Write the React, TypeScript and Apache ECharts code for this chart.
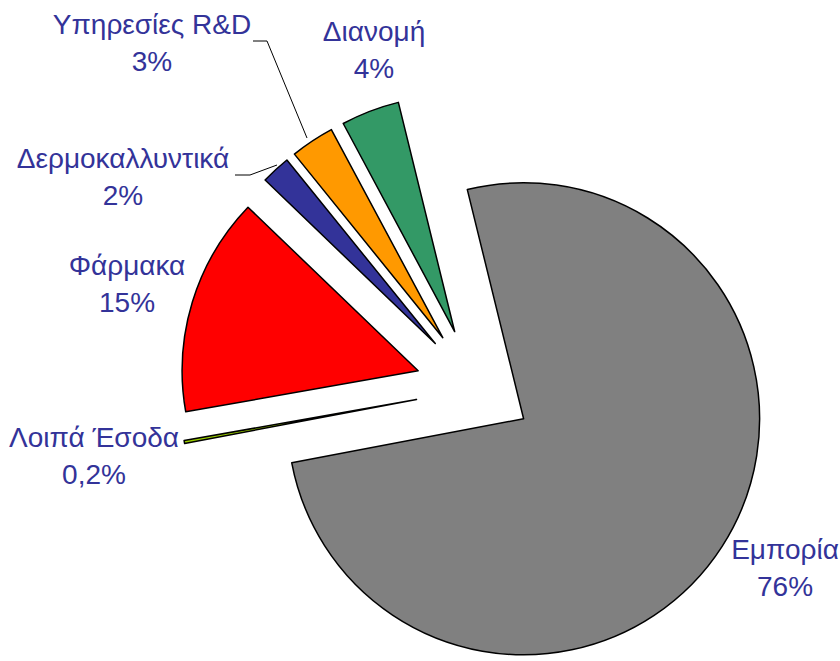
import React, { useEffect, useRef } from 'react';
import * as echarts from 'echarts';

const categories = ['Εμπορία', 'Λοιπά Έσοδα', 'Φάρμακα', 'Δερμοκαλλυντικά', 'Υπηρεσίες R&D', 'Διανομή'];
const values = [76, 0.2, 15, 2, 3, 4];
const colors = ['#808080', '#99CC00', '#FF0000', '#333399', '#FF9900', '#339966'];

// Layout (label block centres and leader lines, in px)
const labelCenters: number[][] = [[785, 568], [94, 456], [127, 284], [123, 177], [152, 43], [374, 50]];
const leaderLines: (number[][] | null)[] = [
  null,
  null,
  null,
  [[235, 175], [250, 175], [277, 165]],
  [[253, 41], [267, 41], [307, 138]],
  null,
];

const PIE_CENTER = [476.5, 388.5];
const PIE_RADIUS = 236;
const START_ANGLE = 103.8;
const LABEL_COLOR = '#333399';

function makeSeries(visible: number[], offset: number) {
  return {
    type: 'pie',
    center: PIE_CENTER,
    radius: PIE_RADIUS,
    startAngle: START_ANGLE,
    clockwise: true,
    selectedMode: 'multiple',
    selectedOffset: offset,
    avoidLabelOverlap: false,
    silent: true,
    emphasis: { disabled: true },
    select: { itemStyle: { borderColor: '#000', borderWidth: 1.5 } },
    label: { show: false },
    labelLine: { show: false },
    data: categories.map((name, i) => {
      const vis = visible.includes(i);
      return {
        name,
        value: values[i],
        selected: vis,
        itemStyle: vis
          ? { color: colors[i], borderColor: '#000', borderWidth: 1.5 }
          : { color: 'rgba(0,0,0,0)', borderWidth: 0 },
      };
    }),
  };
}

function labelText(i: number) {
  return categories[i] + '\n' + String(values[i]).replace('.', ',') + '%';
}

export default function App() {
  const ref = useRef<HTMLDivElement>(null);
  useEffect(() => {
    if (!ref.current) return;
    const chart = echarts.init(ref.current, null, { renderer: 'svg' });
    const texts = categories.map((_, i) => ({
      type: 'text',
      x: labelCenters[i][0],
      y: labelCenters[i][1],
      silent: true,
      style: {
        text: labelText(i),
        fill: LABEL_COLOR,
        fontSize: 28,
        fontFamily: 'Liberation Sans',
        lineHeight: 37,
        align: 'center',
        verticalAlign: 'middle',
      },
    }));
    const lines = leaderLines
      .filter((l) => l != null)
      .map((pts) => ({
        type: 'polyline',
        silent: true,
        shape: { points: pts },
        style: { stroke: '#000', lineWidth: 1, fill: null },
      }));
    chart.setOption({
      animation: false,
      backgroundColor: '#ffffff',
      series: [makeSeries([0], 56), makeSeries([1, 2, 3, 4, 5], 61)],
      graphic: [...lines, ...texts],
    });
    return () => chart.dispose();
  }, []);
  return (
    <div
      ref={ref}
      style={{ position: 'fixed', left: 0, top: 0, width: 840, height: 661, background: '#fff' }}
    />
  );
}
